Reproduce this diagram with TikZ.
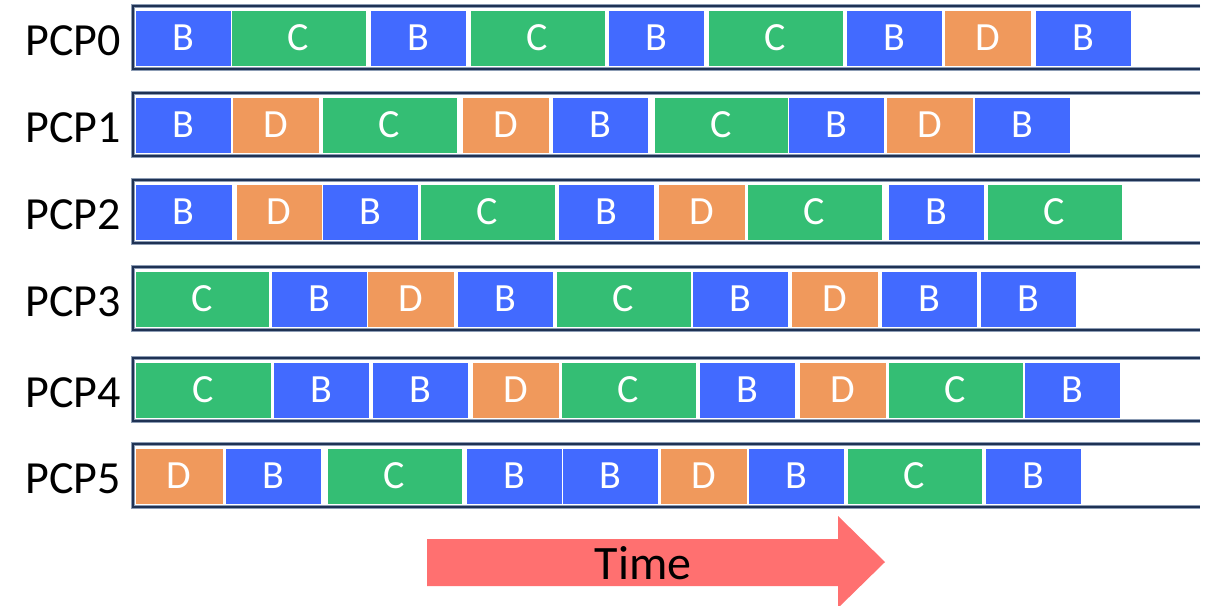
\documentclass[tikz,border=0pt]{standalone}
\usepackage{fontspec}
\setmainfont{Carlito}
\usepackage{tikz}

\definecolor{colB}{RGB}{66,106,255}
\definecolor{colC}{RGB}{52,190,116}
\definecolor{colD}{RGB}{240,153,92}
\definecolor{laneline}{RGB}{31,50,84}
\definecolor{laneedge}{RGB}{140,156,180}
\definecolor{timecol}{RGB}{255,112,112}

\begin{document}
\begin{tikzpicture}[x=1pt, y=-1pt]
        \tikzstyle{lane}=[draw=laneline, line width=2.2pt,
            preaction={draw=laneedge, line width=3.6pt}]
        \tikzstyle{blk}=[rectangle, draw=white, line width=0.8pt, inner sep=0pt,
            minimum height=56pt, text=white, font=\fontsize{40}{40}\selectfont]
        \tikzstyle{blkB}=[blk, fill=colB]
        \tikzstyle{blkC}=[blk, fill=colC]
        \tikzstyle{blkD}=[blk, fill=colD]
        \tikzstyle{lbl}=[anchor=east, inner sep=0pt, font=\fontsize{46}{46}\selectfont]
        \useasboundingbox (0,0) rectangle (1207,605);

        % one lane per PCP: left/right edge and type of every block
        \foreach \r/\t/\blocks in {
            0/6/{135/231/B, 231/366/C, 370/466/B, 470/605/C, 608/704/B, 708/843/C, 846/942/B, 944/1031/D, 1035/1131/B},
            1/93/{135/231/B, 232/319/D, 322/457/C, 462/549/D, 552/648/B, 654/788/C, 788/884/B, 886/973/D, 974/1070/B},
            2/180/{135/232/B, 236/322/D, 322/418/B, 420/555/C, 558/654/B, 658/745/D, 747/882/C, 888/984/B, 987/1122/C},
            3/267/{135/269/C, 271/367/B, 367/454/D, 457/553/B, 556/691/C, 692/788/B, 791/878/D, 881/977/B, 980/1076/B},
            4/358/{135/271/C, 273/369/B, 372/468/B, 472/559/D, 561/696/C, 699/795/B, 799/886/D, 888/1023/C, 1024/1120/B},
            5/444/{135/223/D, 225/321/B, 327/462/C, 466/562/B, 562/658/B, 660/747/D, 748/844/B, 847/982/C, 985/1081/B}}
        {
            \draw[lane] (1200,\t) -- (133,\t) -- (133,\t+63) -- (1200,\t+63);
            \node[lbl] (pcp\r) at (121,\t+35) {PCP\r};
            \foreach \a/\b/\k [count=\i] in \blocks
                \node[blk\k, minimum width={(\b-\a)*1pt}] (job\r-\i) at ({(\a+\b)/2},\t+32) {\k};
        }

        % time arrow
        \fill[timecol] (427,539) -- (838,539) -- (838,516) -- (885,562)
            -- (838,608) -- (838,586) -- (427,586) -- cycle;
        \node[font=\fontsize{48}{48}\selectfont] (time) at (643,563) {Time};
    \end{tikzpicture}
\end{document}
